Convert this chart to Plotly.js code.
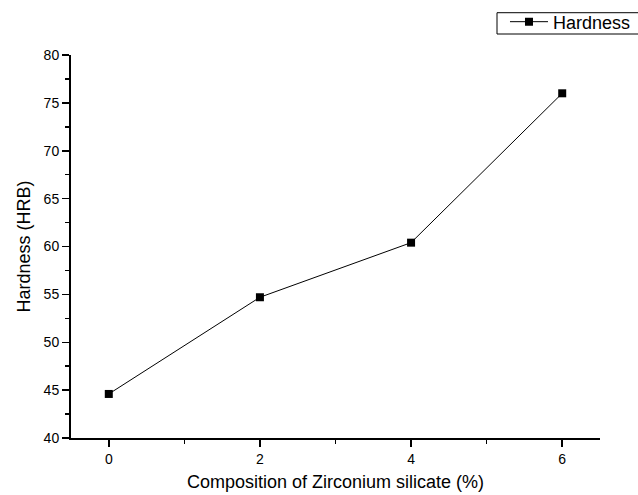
<!DOCTYPE html>
<html>
<head>
<meta charset="utf-8">
<script src="https://cdn.plot.ly/plotly-3.0.1.min.js"></script>
<style>body{margin:0;padding:0;background:#fff;} #chart{width:638px;height:495px;}</style>
</head>
<body>
<div id="chart"></div>
<script>
const composition = [0, 2, 4, 6];
const hardness = [44.6, 54.7, 60.4, 76.0];
const xTicks = [0, 2, 4, 6];
const yTicks = [40, 45, 50, 55, 60, 65, 70, 75, 80];

const trace = {
  x: composition,
  y: hardness,
  type: 'scatter',
  mode: 'lines+markers',
  name: 'Hardness',
  line: {color: '#000', width: 1},
  marker: {symbol: 'square', size: 8, color: '#000'}
};

const layout = {
  width: 638,
  height: 495,
  margin: {l: 71, r: 38, t: 55, b: 57, autoexpand: false},
  paper_bgcolor: '#fff',
  plot_bgcolor: '#fff',
  font: {family: 'Liberation Sans, Arial, sans-serif', color: '#000', size: 14},
  showlegend: true,
  legend: {
    x: 0.8204, xanchor: 'left', y: 1.1345, yanchor: 'top',
    borderwidth: 0, bgcolor: 'rgba(0,0,0,0)',
    itemwidth: 38,
    font: {size: 18}
  },
  shapes: [{
    type: 'rect', xref: 'paper', yref: 'paper',
    x0: 0.8053, x1: 1.09, y0: 1.0548, y1: 1.1104,
    line: {color: '#000', width: 1}, fillcolor: 'rgba(0,0,0,0)', layer: 'above'
  }],
  xaxis: {
    range: [-0.5, 6.5],
    tickvals: xTicks,
    ticktext: xTicks.map(String),
    ticks: 'outside', ticklen: 7, tickwidth: 1.5, tickcolor: '#000',
    minor: {dtick: 1, tick0: 0, ticks: 'outside', ticklen: 4, tickwidth: 1.5, tickcolor: '#000'},
    showline: true, linecolor: '#000', linewidth: 2,
    showgrid: false, zeroline: false,
    title: {text: 'Composition of Zirconium silicate (%)', font: {size: 18}, standoff: 10}
  },
  yaxis: {
    range: [40, 80],
    tickvals: yTicks,
    ticktext: yTicks.map(String),
    ticks: 'outside', ticklen: 7, tickwidth: 1.5, tickcolor: '#000',
    minor: {dtick: 2.5, tick0: 40, ticks: 'outside', ticklen: 4, tickwidth: 1.5, tickcolor: '#000'},
    showline: true, linecolor: '#000', linewidth: 2,
    showgrid: false, zeroline: false,
    title: {text: 'Hardness (HRB)', font: {size: 18}, standoff: 8}
  }
};

Plotly.newPlot('chart', [trace], layout, {displayModeBar: false, staticPlot: true});
</script>
</body>
</html>
